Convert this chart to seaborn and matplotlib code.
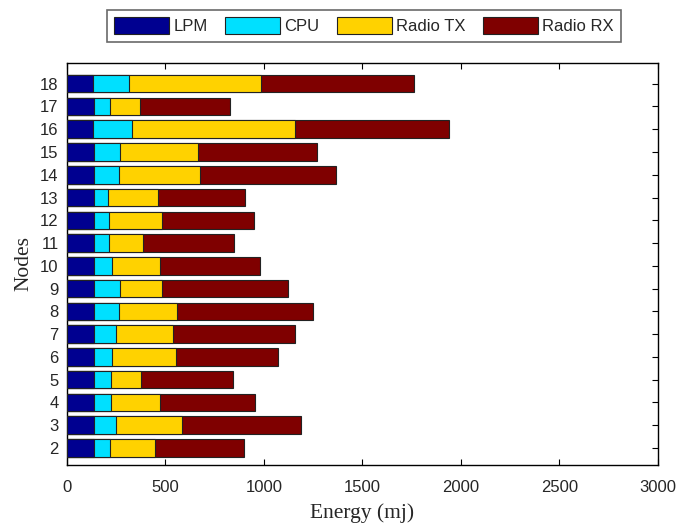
import matplotlib
matplotlib.use("Agg")
import matplotlib.pyplot as plt
from matplotlib.patches import Patch
import seaborn as sns
import pandas as pd
import numpy as np

nodes = [2, 3, 4, 5, 6, 7, 8, 9, 10, 11, 12, 13, 14, 15, 16, 17, 18]
lpm = [137, 137, 137, 137, 137, 137, 137, 137, 137, 137, 137, 137, 137, 137, 130, 137, 130]
cpu = [82, 112, 85, 85, 90, 111, 129, 133, 90, 78, 78, 70, 126, 133, 200, 82, 187]
radio_tx = [230, 333, 248, 155, 324, 292, 294, 210, 244, 171, 265, 256, 410, 396, 827, 153, 666]
radio_rx = [449, 604, 486, 468, 518, 617, 688, 643, 510, 464, 469, 443, 693, 602, 782, 458, 780]

series_names = ["LPM", "CPU", "Radio TX", "Radio RX"]
colors = ["#000090", "#00E0FF", "#FFD200", "#7F0000"]
x_ticks = [0, 500, 1000, 1500, 2000, 2500, 3000]

sns.set_style("white")
plt.rcParams["font.family"] = ["Liberation Sans", "DejaVu Sans"]

df = pd.DataFrame({
    "Node": [str(n) for n in nodes],
    "LPM": lpm,
    "CPU": cpu,
    "Radio TX": radio_tx,
    "Radio RX": radio_rx,
})
cum = df[series_names].cumsum(axis=1)
cum["Node"] = df["Node"]
order = [str(n) for n in nodes[::-1]]

fig = plt.figure(figsize=(6.78, 5.24), dpi=100)
ax = fig.add_axes([0.0988, 0.1126, 0.8717, 0.7672])

for name, col in zip(series_names[::-1], colors[::-1]):
    sns.barplot(data=cum, x=name, y="Node", order=order, orient="h",
                color=col, width=0.77, edgecolor="#222222", linewidth=0.8,
                saturation=1, ax=ax, zorder=3)

ax.set_xlim(0, 3000)
ax.set_ylim(16.75, -0.91)
ax.set_xticks(x_ticks)
ax.set_xticklabels([str(t) for t in x_ticks], fontsize=12)
ax.set_yticks(range(len(order)))
ax.set_yticklabels(order, fontsize=12)
ax.tick_params(direction="in", length=4, width=0.8, top=True, right=True,
               left=True, bottom=True, color="black")
ax.tick_params(axis="x", pad=11)
ax.tick_params(axis="y", pad=6)
for s in ax.spines.values():
    s.set_visible(True)
    s.set_color("black")
    s.set_linewidth(1.0)

ax.set_xlabel("Energy (mj)", fontsize=15.5, family=["Liberation Serif"], labelpad=6)
ax.set_ylabel("Nodes", fontsize=15.5, family=["Liberation Serif"], labelpad=5)

handles = [Patch(facecolor=c, edgecolor="#222222", linewidth=0.8) for c in colors]
leg = fig.legend(handles, series_names, loc="center", bbox_to_anchor=(0.537, 0.951),
                 ncol=4, frameon=True, fancybox=False, edgecolor="#444444",
                 fontsize=12, handlelength=3.3, handleheight=1.2, handletextpad=0.25,
                 columnspacing=1.05, borderpad=0.45, borderaxespad=0)
leg.get_frame().set_linewidth(1.2)

fig.savefig("out.png", dpi=100, facecolor="white")
